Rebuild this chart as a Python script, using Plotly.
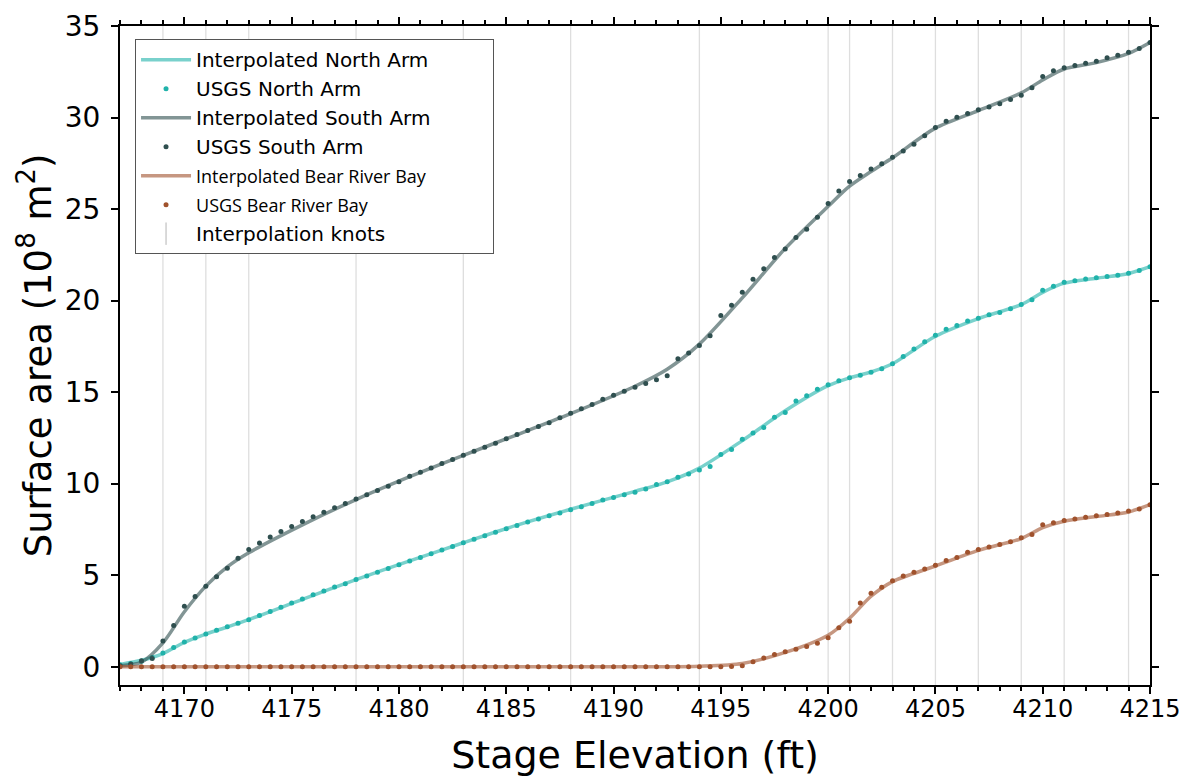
import plotly.graph_objects as go

# ---------------- data ----------------
stage_ft = [4167 + 0.5 * i for i in range(97)]  # 4167.0 ... 4215.0 every 0.5 ft

usgs_north = [
    0.10, 0.18, 0.30, 0.50, 0.75, 1.05, 1.35, 1.57, 1.79, 1.99,   # 4167.0-4171.5
    2.18, 2.38, 2.57, 2.79, 3.02, 3.25, 3.48, 3.70, 3.93, 4.14,   # 4172.0-4176.5
    4.35, 4.53, 4.76, 4.95, 5.16, 5.36, 5.57, 5.77, 5.97, 6.17,   # 4177.0-4181.5
    6.37, 6.57, 6.77, 6.96, 7.16, 7.35, 7.54, 7.72, 7.90, 8.07,   # 4182.0-4186.5
    8.24, 8.40, 8.58, 8.74, 8.92, 9.10, 9.24, 9.39, 9.53, 9.71,   # 4187.0-4191.5
    9.95, 10.11, 10.35, 10.53, 10.75, 10.93, 11.59, 11.86, 12.43, 12.76,  # 4192.0-4196.5
    13.07, 13.63, 13.89, 14.51, 14.80, 15.15, 15.40, 15.62, 15.78, 15.92,  # 4197.0-4201.5
    16.08, 16.28, 16.55, 16.95, 17.35, 17.75, 18.10, 18.44, 18.64, 18.88,  # 4202.0-4206.5
    19.03, 19.23, 19.35, 19.56, 19.79, 20.05, 20.56, 20.78, 21.00, 21.09,  # 4207.0-4211.5
    21.18, 21.25, 21.32, 21.39, 21.50, 21.65, 21.85,                       # 4212.0-4215.0
]

usgs_south = [
    0.05, 0.15, 0.33, 0.45, 1.40, 2.25, 3.30, 3.83, 4.39, 4.92,
    5.38, 5.92, 6.40, 6.76, 7.08, 7.38, 7.66, 7.93, 8.19, 8.44,
    8.68, 8.92, 9.16, 9.39, 9.62, 9.86, 10.11, 10.40, 10.62, 10.86,
    11.10, 11.32, 11.55, 11.77, 11.99, 12.21, 12.45, 12.68, 12.90, 13.12,
    13.32, 13.60, 13.85, 14.09, 14.32, 14.61, 14.83, 15.05, 15.27, 15.47,
    15.67, 15.89, 16.82, 17.13, 17.55, 18.08, 19.19, 19.74, 20.45, 21.16,
    21.74, 22.35, 22.82, 23.44, 23.89, 24.55, 25.30, 25.99, 26.50, 26.83,
    27.19, 27.48, 27.83, 28.17, 28.54, 29.00, 29.45, 29.80, 30.02, 30.22,
    30.42, 30.58, 30.75, 30.98, 31.22, 31.62, 32.24, 32.55, 32.72, 32.84,
    32.96, 33.08, 33.27, 33.40, 33.56, 33.77, 34.10,
]

usgs_bear = [0.0] * 57 + [
    0.01, 0.05, 0.27, 0.48, 0.66, 0.82, 0.95, 1.11, 1.28, 1.58,   # 4195.5-4200.0
    2.13, 2.48, 3.48, 4.01, 4.34, 4.70, 4.96, 5.16, 5.34, 5.54,   # 4200.5-4205.0
    5.80, 5.96, 6.25, 6.40, 6.54, 6.67, 6.82, 7.04, 7.22, 7.76,   # 4205.5-4210.0
    7.87, 7.98, 8.07, 8.16, 8.24, 8.31, 8.40, 8.51, 8.62, 8.85,   # 4210.5-4215.0
]

# interpolated curves, read at selected elevations
curve_ft = [4167, 4168, 4169, 4170, 4171, 4172, 4173, 4175.5, 4178, 4180.5,
            4183, 4185.5, 4188, 4191, 4192.5, 4194, 4196, 4198, 4200, 4201,
            4202, 4203, 4205, 4207, 4209, 4210, 4211, 4212.5, 4214, 4215]
interp_north = [0.12, 0.35, 0.72, 1.33, 1.78, 2.17, 2.57, 3.68, 4.76, 5.78,
                6.77, 7.73, 8.60, 9.58, 10.10, 10.85, 12.35, 13.98, 15.35, 15.78,
                16.10, 16.55, 18.05, 19.02, 19.78, 20.45, 20.95, 21.22, 21.48, 21.85]
interp_south = [0.05, 0.25, 1.30, 3.00, 4.40, 5.45, 6.22, 7.75, 9.13, 10.38,
                11.55, 12.67, 13.82, 15.32, 16.25, 17.62, 20.15, 22.85, 25.15, 26.25,
                27.05, 27.80, 29.42, 30.38, 31.35, 32.05, 32.65, 33.00, 33.50, 34.10]
interp_bear = [0.0, 0.0, 0.0, 0.0, 0.0, 0.0, 0.0, 0.0, 0.0, 0.0,
               0.0, 0.0, 0.0, 0.0, 0.0, 0.03, 0.18, 0.78, 1.72, 2.65,
               3.85, 4.65, 5.50, 6.35, 7.00, 7.60, 7.95, 8.20, 8.45, 8.85]

knots_ft = [4169, 4171, 4173, 4178, 4183, 4188, 4194, 4200, 4201, 4203,
            4205, 4207, 4209, 4211, 4214]

x_ticks = [4170, 4175, 4180, 4185, 4190, 4195, 4200, 4205, 4210, 4215]
y_ticks = [0, 5, 10, 15, 20, 25, 30, 35]

# ---------------- styles ----------------
C_NORTH = "#20b2aa"
C_SOUTH = "#2f4f4f"
C_BEAR = "#a0522d"
L_NORTH = "rgba(32,178,170,0.6)"
L_SOUTH = "rgba(47,79,79,0.6)"
L_BEAR = "rgba(160,82,45,0.6)"
FONT = "DejaVu Sans"
PAD = "&nbsp;" * 9  # invisible padding to widen the legend box

fig = go.Figure()

def add_pair(name, lcolor, mcolor, yline, ypts, grp, small=False, pad=""):
    lname = f"Interpolated {name}"
    pname = f"USGS {name}"
    if small:
        lname = f'<span style="font-family:Open Sans;font-size:18px">{lname}</span>'
        pname = f'<span style="font-family:Open Sans;font-size:18px">{pname}</span>'
    fig.add_trace(go.Scatter(
        x=curve_ft, y=yline, mode="lines", name=lname + pad,
        line=dict(color=lcolor, width=3.5, shape="spline", smoothing=0.8),
        legendgroup=grp + "l", hoverinfo="skip"))
    fig.add_trace(go.Scatter(
        x=stage_ft, y=ypts, mode="markers", name=pname,
        marker=dict(color=mcolor, size=5),
        legendgroup=grp + "p"))

add_pair("North Arm", L_NORTH, C_NORTH, interp_north, usgs_north, "n")
add_pair("South Arm", L_SOUTH, C_SOUTH, interp_south, usgs_south, "s", pad=PAD)
add_pair("Bear River Bay", L_BEAR, C_BEAR, interp_bear, usgs_bear, "b", small=True)

# legend entry for knots
fig.add_trace(go.Scatter(
    x=[None], y=[None], mode="markers", name="Interpolation knots",
    marker=dict(symbol="line-ns", size=22, color="#b5b5b5",
                line=dict(width=1, color="#b5b5b5")),
    legendgroup="k"))

for k in knots_ft:
    fig.add_vline(x=k, line=dict(color="#dedede", width=1.3), layer="below")

axis_common = dict(
    showline=True, linecolor="black", linewidth=2, mirror="allticks",
    ticks="outside", ticklen=7, tickwidth=2, tickcolor="black",
    showgrid=False, zeroline=False, automargin=False,
)

fig.update_layout(
    width=1179, height=769,
    paper_bgcolor="white", plot_bgcolor="white",
    margin=dict(l=112, r=37, t=18, b=92),
    font=dict(family=FONT, color="black"),
    showlegend=True,
    legend=dict(
        x=0.0146, y=0.98, xanchor="left", yanchor="top",
        bgcolor="white", bordercolor="#555555", borderwidth=1,
        font=dict(family=FONT, size=20, color="black"),
        tracegroupgap=0, traceorder="grouped", itemwidth=50,
    ),
    xaxis=dict(
        range=[4167, 4215], tickvals=x_ticks,
        tickfont=dict(family=FONT, size=24, color="black"),
        ticklabelstandoff=-6,
        minor=dict(dtick=1, tick0=4167, ticks="outside", ticklen=4, tickwidth=1.5, tickcolor="black"),
        title=dict(text="Stage Elevation (ft)", font=dict(family=FONT, size=38), standoff=22),
        **axis_common,
    ),
    yaxis=dict(
        range=[-1, 35], tickvals=y_ticks,
        tickfont=dict(family=FONT, size=28, color="black"),
        ticklabelstandoff=5,
        title=dict(text="Surface area (10<sup>8</sup> m<sup>2</sup>)", font=dict(family=FONT, size=37), standoff=2),
        **axis_common,
    ),
)

fig.write_html("out.html")
